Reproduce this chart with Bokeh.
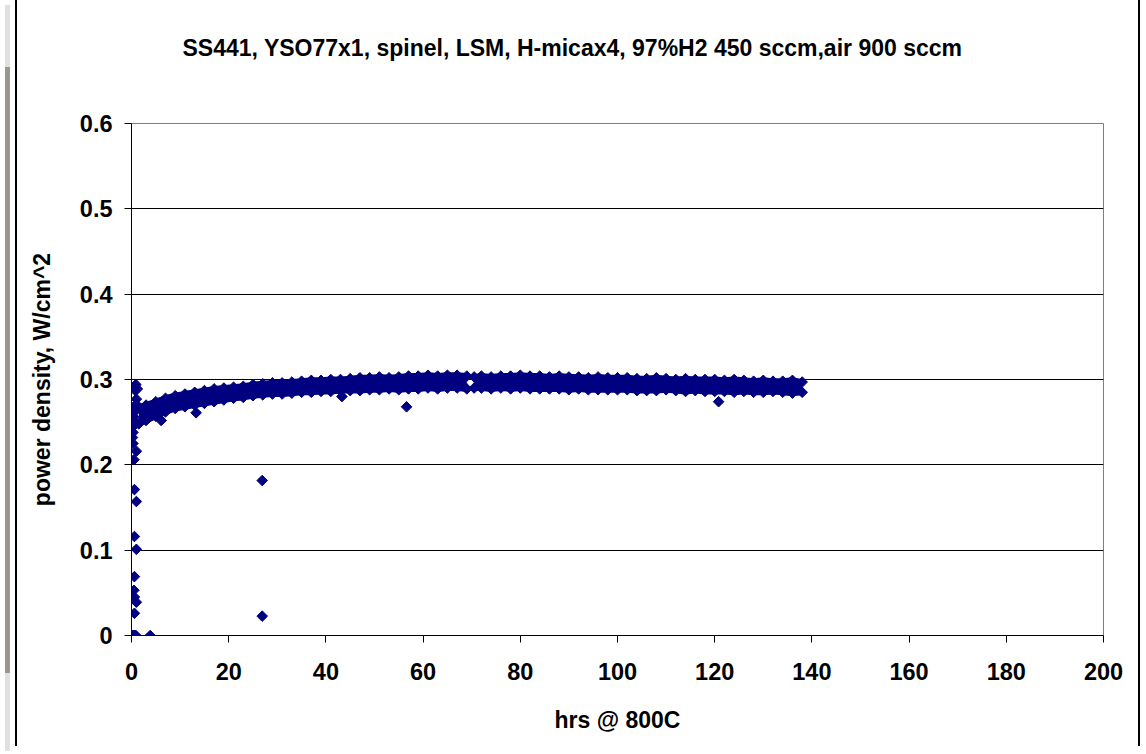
import math
from bokeh.plotting import figure
from bokeh.models import ColumnDataSource, FixedTicker, Div, Range1d, Title
from bokeh.layouts import row
from bokeh.embed import file_html
from bokeh.resources import INLINE

# ---- data ----
title_text = "SS441, YSO77x1, spinel, LSM, H-micax4, 97%H2 450 sccm,air 900 sccm"
x_label = "hrs @ 800C"
y_label = "power density, W/cm^2"
x_ticks = [0, 20, 40, 60, 80, 100, 120, 140, 160, 180, 200]
y_ticks = [0, 0.1, 0.2, 0.3, 0.4, 0.5, 0.6]

# dense main band: hours and the upper / lower envelope of the scatter
band_hrs = [1.5, 3, 5, 7, 9, 11, 13, 15, 17, 19, 21, 23, 25, 27, 29, 31, 33, 35, 37, 39,
            41, 43, 45, 47, 49, 51, 53, 55, 57, 59, 61, 63, 65, 67, 69,
            70.5, 72, 74, 76, 78, 80, 82, 84, 86, 88, 90, 92, 94, 96, 98, 100,
            102, 104, 106, 108, 110, 112, 114, 116, 118, 120, 122, 124, 126, 128,
            130, 132, 134, 136, 138]
band_top = [0.268, 0.270, 0.274, 0.278, 0.281, 0.283, 0.285, 0.287, 0.289, 0.290,
            0.291, 0.292, 0.294, 0.295, 0.296, 0.296, 0.297, 0.298, 0.299, 0.299,
            0.300, 0.300, 0.301, 0.302, 0.302, 0.303, 0.302, 0.303, 0.304, 0.304,
            0.305, 0.304, 0.305, 0.305, 0.304,
            0.303, 0.304, 0.303, 0.304, 0.304, 0.305, 0.304, 0.304, 0.303, 0.304,
            0.303, 0.303, 0.302, 0.303, 0.302, 0.302,
            0.302, 0.301, 0.301, 0.302, 0.301, 0.300, 0.301, 0.300, 0.300, 0.300,
            0.299, 0.300, 0.299, 0.298, 0.299, 0.298, 0.298, 0.299, 0.297]
band_bottom = [0.248, 0.252, 0.257, 0.262, 0.266, 0.268, 0.270, 0.272, 0.274, 0.276,
               0.278, 0.279, 0.281, 0.282, 0.283, 0.283, 0.284, 0.285, 0.285, 0.286,
               0.286, 0.287, 0.287, 0.287, 0.288, 0.288, 0.289, 0.288, 0.289, 0.289,
               0.290, 0.289, 0.290, 0.290, 0.289,
               0.290, 0.290, 0.289, 0.290, 0.289, 0.290, 0.289, 0.289, 0.289, 0.289,
               0.288, 0.289, 0.288, 0.288, 0.288, 0.288,
               0.288, 0.287, 0.287, 0.287, 0.288, 0.287, 0.286, 0.287, 0.286, 0.286,
               0.286, 0.285, 0.286, 0.285, 0.285, 0.286, 0.285, 0.284, 0.285]
gap_after_hr = 69  # small break in the record

# individual points (start-up transient and outliers)
pt_hrs = [0.1, 0.2, 0.3, 0.5, 0.7, 0.9, 3.85, 0.6, 1.0, 0.6, 0.5, 0.6, 1.0, 0.6, 1.0,
          0.6, 0.5, 1.0, 0.3, 0.2, 0.3, 0.2, 0.4, 0.3, 0.5, 0.6, 0.4, 0.8, 1.0, 0.8,
          1.2, 0.6, 0.9, 26.9, 26.9, 6.1, 13.3, 43.3, 56.6, 120.8]
pt_vals = [0.0, 0.0, 0.0, 0.0, 0.0, 0.0, 0.0, 0.026, 0.039, 0.045, 0.053, 0.069, 0.101,
           0.116, 0.157, 0.171, 0.206, 0.216, 0.225, 0.232, 0.238, 0.244, 0.248, 0.252,
           0.256, 0.262, 0.266, 0.270, 0.277, 0.287, 0.289, 0.292, 0.294, 0.1816,
           0.0227, 0.252, 0.261, 0.280, 0.268, 0.274]

NAVY = "#000080"
FONT = "Liberation Sans"

p = figure(width=1125, height=746, output_backend="svg", toolbar_location=None,
           x_range=Range1d(0, 200), y_range=Range1d(0, 0.6),
           min_border_left=114, min_border_right=39, min_border_top=123,
           min_border_bottom=111)

# empty spacer between the frame and the title
p.add_layout(Title(text=" ", text_font_size="2px", standoff=58), "above")

p.title.text = title_text
p.title.text_font = FONT
p.title.text_font_size = "23px"
p.title.text_font_style = "bold"
p.title.text_color = "black"
p.title.align = "left"
p.title.offset = 51
p.title.vertical_align = "bottom"
p.title.standoff = 2

p.background_fill_color = "white"
p.border_fill_color = "white"
p.outline_line_color = "#808080"
p.outline_line_width = 1

p.xgrid.visible = False
p.ygrid.grid_line_color = "#000000"
p.ygrid.grid_line_width = 1

for ax in (p.xaxis, p.yaxis):
    ax.axis_line_color = "black"
    ax.axis_line_width = 1
    ax.major_tick_line_color = "black"
    ax.major_tick_out = 7
    ax.major_tick_in = 0
    ax.minor_tick_line_color = None
    ax.major_label_text_font = FONT
    ax.major_label_text_font_style = "bold"
    ax.major_label_text_font_size = "23.5px"
    ax.major_label_text_color = "black"
    ax.axis_label_text_font = FONT
    ax.axis_label_text_font_style = "bold"
    ax.axis_label_text_font_size = "23px"
    ax.axis_label_text_color = "black"

p.xaxis.ticker = FixedTicker(ticks=x_ticks)
p.yaxis.ticker = FixedTicker(ticks=y_ticks)
p.xaxis.axis_label = x_label
p.yaxis.axis_label = y_label
p.xaxis.major_label_standoff = 20
p.yaxis.major_label_standoff = 12
p.xaxis.axis_label_standoff = 24
p.yaxis.axis_label_standoff = 22

ang = math.pi / 4
# band split around the small gap
n1 = sum(1 for h in band_hrs if h <= gap_after_hr)
for sl in (slice(0, n1), slice(n1, None)):
    src = ColumnDataSource(dict(x=band_hrs[sl], top=band_top[sl], bot=band_bottom[sl]))
    p.varea(x="x", y1="bot", y2="top", source=src, fill_color=NAVY)
    for col in ("top", "bot"):
        p.line(x="x", y=col, source=src, line_color=NAVY, line_width=6)
        p.scatter(x="x", y=col, source=src, marker="square", angle=ang, size=7.5,
                  fill_color=NAVY, line_color=NAVY)

pts = ColumnDataSource(dict(x=pt_hrs, y=pt_vals))
p.scatter(x="x", y="y", source=pts, marker="square", angle=ang, size=7.5,
          fill_color=NAVY, line_color=NAVY)

strip = Div(width=5, height=746, styles={
    "background": "linear-gradient(#e0e0e0 0px, #e0e0e0 62px, #9a9692 62px, #9a9692 668px, #e0e0e0 668px)"})

p.styles = {"border-left": "2px solid black", "border-right": "2px solid black"}
layout = row(strip, p)

open("out.html", "w").write(file_html(layout, INLINE))
